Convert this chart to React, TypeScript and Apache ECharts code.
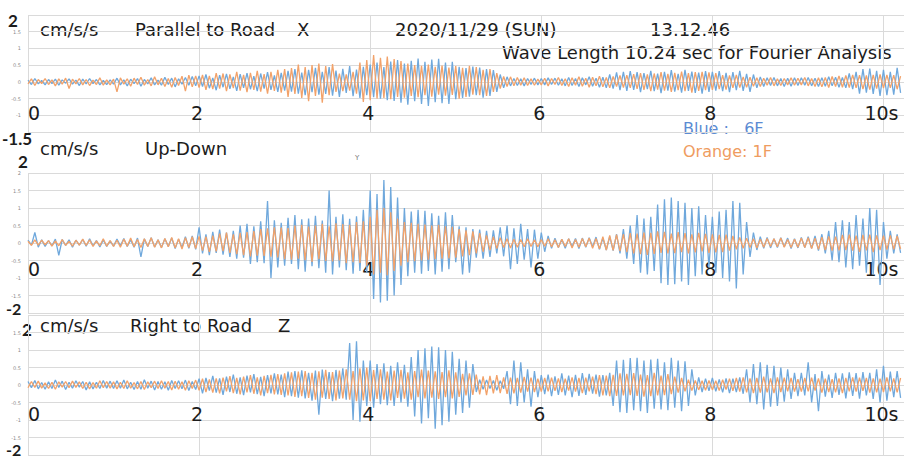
import React, { useEffect, useRef } from "react";
import * as echarts from "echarts";

// Acceleration records, sampled every 0.04 s (10.24 s window), values in 0.01 cm/s/s.
const SAMPLE_STEP = 0.04;
const VALUE_SCALE = 0.01;

// Parallel to Road (X)
const parallelBlue6F = [
  5,-8,10,-6,4,-9,7,-5,8,-10,6,-4,9,-7,5,-11,8,-6,10,-5,7,-9,4,-8,6,
  -7,11,-9,6,-12,8,-5,10,-13,7,-6,12,-9,5,-10,14,-8,11,-15,9,-7,13,-10,16,-12,
  18,-14,22,-19,12,-25,20,-16,24,-21,15,-27,23,-18,26,-22,17,-28,25,-20,29,-24,19,-30,27,
  -26,33,-29,38,-35,28,-40,36,-31,42,-38,30,-36,44,-41,34,-45,39,-33,47,-43,37,-48,45,-40,
  52,-46,58,-50,44,-55,61,-57,65,-62,55,-68,63,-58,70,-66,60,-72,67,-61,69,-64,58,-66,60,
  -52,45,-48,41,-44,46,-40,43,-47,38,-42,35,-30,22,-18,15,-12,10,-11,9,-12,10,-8,11,-9,
  10,-9,12,-8,11,-10,9,-12,13,-11,10,-14,12,-9,15,-13,11,-16,14,-18,22,-20,28,-25,30,
  -27,32,-24,29,-31,26,-22,33,-28,25,-34,30,-26,35,-29,24,-32,36,-27,31,-33,28,-35,32,-30,
  30,-26,32,-28,27,-31,29,-25,33,-27,24,-30,22,-18,15,-14,12,-11,13,-12,10,-14,11,-13,12,
  -11,12,-10,13,-12,11,-14,12,-13,15,-12,14,-16,13,-18,25,-22,30,-35,38,-32,40,-36,33,-42,
  36,-40,30,-38,42,-33,
];
const parallelOrange1F = [
  -6,9,-11,7,-5,10,-8,6,-12,9,-7,11,-20,8,-6,10,-9,7,-11,5,-8,12,-10,6,-9,
  8,-30,12,-7,9,-13,11,-8,14,-10,7,-12,15,-9,11,-14,10,-16,13,-11,17,-28,20,-15,18,
  -17,21,-24,18,-22,26,-20,25,-28,22,-19,30,-26,21,-31,27,-24,33,-29,23,-35,30,-27,36,-32,
  38,-45,41,-36,52,-48,44,-58,50,-42,55,-62,47,-40,53,-30,25,-28,22,-26,30,-35,58,-60,65,
  -55,80,-50,72,-48,76,-52,68,-45,62,-47,55,-42,50,-46,48,-40,52,-44,45,-38,49,-41,43,-39,
  47,-50,42,-45,48,-38,44,-40,36,-42,38,-30,26,-20,16,-14,15,-12,13,-10,12,-11,9,-10,8,
  -9,11,-12,10,-8,13,-11,9,-14,12,-10,15,-13,11,-16,14,-12,17,-15,13,-18,16,-14,19,-17,
  20,-18,23,-21,26,-24,22,-28,25,-23,29,-26,24,-30,27,-25,31,-28,26,-32,29,-27,30,-25,28,
  -24,26,-22,20,-23,19,-18,21,-17,15,-16,14,-13,12,-14,11,-10,13,-12,9,-11,10,-9,12,-10,
  11,-9,13,-12,10,-14,12,-15,13,-17,16,-14,18,-16,19,-17,21,-18,20,-22,19,-23,21,-20,22,
  -19,21,-18,20,-22,17,
];

// Up-Down (Y)
const verticalBlue6F = [
  8,-6,30,-12,9,-10,7,-8,11,-35,10,-7,9,-12,8,-6,10,-9,12,-8,7,-11,9,-10,6,
  -9,11,-8,13,-10,9,-12,14,-40,12,-10,15,-11,9,-13,12,-10,14,-16,11,-13,18,-15,20,-18,
  45,-30,25,-35,32,-28,38,-33,30,-40,35,-45,50,-42,55,-60,48,-55,62,-58,120,-100,65,-70,58,
  -65,72,-60,80,-75,68,-82,70,-66,78,-72,64,-85,150,-90,75,-70,82,-78,69,-88,76,-80,95,-85,
  150,-160,140,-170,180,-165,160,-150,130,-120,100,-95,90,-85,95,-88,92,-80,85,-90,78,-82,88,-75,80,
  -55,48,-90,45,-85,40,-42,38,-45,35,-40,36,-30,45,-38,50,-75,42,-60,55,-48,40,-70,38,-45,
  30,-25,20,-15,14,-13,11,-15,12,-10,13,-16,14,-12,15,-11,17,-18,14,-20,18,-22,25,-30,40,
  -45,50,-60,80,-85,70,-90,75,-80,110,-115,125,-120,130,-118,120,-110,115,-120,100,-95,105,-90,80,-70,
  75,-85,90,-100,95,-110,120,-130,115,-90,60,-40,30,-20,18,-15,16,-14,12,-13,15,-11,14,-16,12,
  -14,16,-13,18,-15,20,-22,25,-30,35,-50,60,-55,65,-70,60,-75,80,-65,70,-85,100,-90,95,-120,
  60,-45,35,-30,25,-28,
];
const verticalOrange1F = [
  5,-7,9,-6,8,-5,7,-9,6,-8,10,-7,5,-9,8,-6,11,-7,9,-10,6,-8,12,-9,7,
  -10,8,-12,11,-9,14,-11,10,-13,12,-10,15,-12,9,-14,13,-11,16,-14,12,-17,15,-13,18,-16,
  19,-22,18,-25,21,-24,27,-23,30,-28,25,-32,29,-35,31,-38,34,-36,40,-37,42,-39,45,-41,44,
  -46,43,-48,50,-45,52,-49,47,-54,50,-46,55,-51,48,-53,56,-50,54,-58,52,-55,60,-57,62,-65,
  75,-90,95,-85,100,-92,88,-80,70,-65,60,-55,58,-52,55,-50,53,-48,50,-46,52,-45,48,-44,46,
  -42,40,-38,36,-35,33,-30,28,-25,22,-20,18,-16,15,-13,12,-14,11,-12,10,-11,12,-10,9,-11,
  10,-9,12,-11,9,-13,11,-10,12,-14,10,-12,13,-11,14,-15,13,-17,18,-20,22,-21,24,-23,25,
  -26,28,-30,27,-32,30,-34,29,-31,33,-28,32,-30,27,-29,31,-26,28,-30,25,-27,29,-24,26,-28,
  25,-27,23,-26,24,-22,20,-18,16,-15,14,-13,12,-14,11,-12,13,-10,12,-11,14,-12,10,-13,11,
  -12,14,-13,15,-16,14,-18,17,-20,19,-22,18,-21,23,-20,24,-22,21,-25,23,-21,24,-26,22,-20,
  21,-19,22,-18,20,-17,
];

// Right to Road (Z)
const rightBlue6F = [
  10,-8,13,-11,7,-12,9,-10,14,-7,11,-13,8,-9,12,-6,10,-14,9,-11,8,-10,13,-9,11,
  -10,12,-9,14,-11,8,-13,10,-12,15,-9,11,-14,10,-12,9,-15,13,-10,12,-11,14,-16,10,-13,
  18,-24,20,-16,26,-22,19,-28,24,-20,30,-25,22,-29,27,-21,31,-26,23,-32,28,-24,33,-27,30,
  -35,38,-32,40,-36,42,-38,35,-45,41,-85,44,-40,37,-46,43,-39,48,-42,120,-100,125,-105,70,-60,
  70,-65,60,-55,62,-58,55,-60,65,-50,58,-62,80,-90,100,-110,105,-95,110,-125,108,-115,100,-105,95,
  -85,75,-80,70,-65,60,-20,15,-12,14,-10,13,-15,12,-11,40,-55,70,-60,65,-50,45,-62,40,-35,
  28,-26,30,-32,25,-28,33,-30,27,-35,29,-31,34,-28,32,-25,30,-33,28,-30,35,-60,70,-78,72,
  -80,77,-72,78,-75,70,-80,73,-68,75,-70,65,-72,78,-65,70,-75,68,-60,45,-30,22,-20,18,-17,
  20,-18,16,-21,19,-23,18,-20,22,-25,45,-50,60,-55,65,-70,58,-62,55,-60,50,-48,45,-40,35,
  -32,35,-30,65,-50,31,-75,40,-33,30,-37,35,-28,33,-38,36,-31,34,-39,37,-30,35,-40,45,-50,
  55,-45,38,-35,40,-37,
];
const rightOrange1F = [
  -8,10,-7,11,-9,6,-10,8,-12,9,-6,10,-8,11,-7,9,-10,8,-11,7,-9,12,-8,10,-9,
  9,-11,8,-10,12,-9,7,-11,10,-13,9,-8,11,-10,12,-9,10,-14,11,-12,9,-15,12,-10,14,
  -15,18,-20,16,-22,19,-24,21,-18,25,-23,20,-27,24,-21,28,-25,22,-30,26,-23,29,-27,31,-28,
  33,-30,36,-34,38,-32,40,-37,35,-42,39,-36,43,-40,37,-44,41,-38,45,-42,40,-46,48,-44,50,
  -46,43,-40,45,-42,38,-44,41,-37,43,-39,36,-42,40,-35,44,-38,41,-36,39,-40,37,-35,42,-38,
  36,-34,32,-30,33,-28,30,-27,25,-29,26,-24,28,-23,22,-25,21,-24,20,-22,23,-19,21,-20,18,
  -19,20,-18,21,-17,19,-20,18,-16,22,-19,20,-23,21,-18,24,-26,28,-30,27,-32,29,-31,33,-30,
  32,-29,34,-31,30,-33,28,-32,35,-30,27,-29,31,-26,24,-22,20,-18,15,-16,13,-14,12,-15,13,
  -14,12,-16,15,-13,18,-17,20,-19,22,-21,19,-23,20,-22,24,-21,19,-23,22,-20,21,-18,20,-19,
  17,-19,20,-18,21,-16,19,-22,18,-20,17,-21,19,-23,20,-18,22,-19,21,-17,20,-22,19,-21,18,
  -20,22,-18,19,-21,20,
];

// Axis settings
const TIME_MAX = 10.24;
const TIME_TICKS = [0, 2, 4, 6, 8, 10];
const Y_RANGES: [number, number][] = [[-1.5, 2], [-2, 2], [-2, 2]];

const BLUE = "#6fa8dc";
const ORANGE = "#f2a26a";
const GRID_COLOR = "#dadada";
const FONT = "'DejaVu Sans', 'Open Sans', sans-serif";
const MARK_FONT = "Lato, 'Open Sans', sans-serif";
const INK = "#1c1c1c";

const panels = [
  { blue: parallelBlue6F, orange: parallelOrange1F },
  { blue: verticalBlue6F, orange: verticalOrange1F },
  { blue: rightBlue6F, orange: rightOrange1F },
];

const GRIDS = [
  { left: 28, top: 15, width: 876, height: 117 },
  { left: 28, top: 173, width: 876, height: 140 },
  { left: 28, top: 315, width: 876, height: 140 },
];
// distance from each grid's bottom edge to the centre of its time labels
const TIME_LABEL_OFFSET = [-19, -44, -41];
// tiny value labels hidden where the range marks sit on top of them
const HIDE_MAX_TICK = [true, false, true];

const toPoints = (vals: number[]) =>
  vals.map((v, i) => [Math.round(i * SAMPLE_STEP * 100) / 100, v * VALUE_SCALE]);

const fmtTick = (v: number) => {
  if (!TIME_TICKS.includes(v)) return "";
  return v === 10 ? "10s" : String(v);
};

const text = (
  str: string,
  x: number,
  y: number,
  size: number,
  color = INK,
  weight: string | number = "normal",
  family = FONT
) => ({
  type: "text",
  x,
  y,
  silent: true,
  style: {
    text: str,
    fill: color,
    font: `${weight} ${size}px ${family}`,
    textVerticalAlign: "middle",
    textAlign: "left",
  },
});

function buildOption() {
  const xAxis = GRIDS.map((_, i) => ({
    type: "value",
    gridIndex: i,
    min: 0,
    max: TIME_MAX,
    interval: 2,
    offset: TIME_LABEL_OFFSET[i],
    axisLine: { show: false },
    axisTick: { show: false },
    splitLine: {
      show: true,
      showMaxLine: false,
      lineStyle: { color: GRID_COLOR, width: 1 },
    },
    axisLabel: {
      formatter: fmtTick,
      fontSize: 19,
      lineHeight: 19,
      fontFamily: FONT,
      color: INK,
      margin: 0,
      verticalAlign: "middle",
      alignMinLabel: "left",
      padding: [0, 4, 0, 0],
    },
  }));

  const yAxis = GRIDS.map((_, i) => ({
    type: "value",
    gridIndex: i,
    min: Y_RANGES[i][0],
    max: Y_RANGES[i][1],
    interval: 0.5,
    axisLine: { show: false },
    axisTick: { show: false },
    splitLine: { show: true, lineStyle: { color: GRID_COLOR, width: 1 } },
    axisLabel: {
      fontSize: 5,
      color: "#8a8a8a",
      margin: 7,
      fontFamily: FONT,
      showMinLabel: false,
      showMaxLabel: !HIDE_MAX_TICK[i],
    },
  }));

  const series: any[] = [];
  panels.forEach((p, i) => {
    series.push({
      name: "6F",
      type: "line",
      xAxisIndex: i,
      yAxisIndex: i,
      data: toPoints(p.blue),
      symbol: "none",
      silent: true,
      lineStyle: { color: BLUE, width: 1.3 },
      z: 2,
    });
    series.push({
      name: "1F",
      type: "line",
      xAxisIndex: i,
      yAxisIndex: i,
      data: toPoints(p.orange),
      symbol: "none",
      silent: true,
      lineStyle: { color: ORANGE, width: 1.3 },
      z: 3,
    });
  });

  const graphic = [
    // panel 1 header
    text("cm/s/s", 40, 29, 18),
    text("Parallel to Road", 135, 29, 18),
    text("X", 297, 29, 18),
    text("2020/11/29 (SUN)", 395, 29, 18),
    text("13.12.46", 650, 29, 18),
    text("Wave Length 10.24 sec for Fourier Analysis", 502, 52, 18),
    text("Blue :   6F", 683, 128, 16, "#5b8bd3"),
    text("Orange: 1F", 683, 151, 16, "#ef9c60"),
    // panel 2 header
    text("cm/s/s", 40, 148, 18),
    text("Up-Down", 145, 148, 18),
    text("Y", 355, 158, 7, "#777"),
    // panel 3 header
    text("cm/s/s", 40, 325, 18),
    text("Right to Road", 130, 325, 18),
    text("Z", 278, 325, 18),
    // vertical range marks
    text("2", 8, 20, 17, INK, "bold", MARK_FONT),
    text("-1.5", 2, 138, 17, INK, "bold", MARK_FONT),
    text("2", 18, 161, 17, INK, "bold", MARK_FONT),
    text("-2", 6, 308, 16, INK, "bold", MARK_FONT),
    text("2", 22, 329, 17, INK, "bold", MARK_FONT),
    text("-2", 6, 449, 16, INK, "bold", MARK_FONT),
  ];

  return {
    animation: false,
    backgroundColor: "#ffffff",
    grid: GRIDS,
    xAxis,
    yAxis,
    series,
    graphic,
  };
}

export default function App() {
  const ref = useRef<HTMLDivElement>(null);
  useEffect(() => {
    if (!ref.current) return;
    const chart = echarts.init(ref.current, undefined, { renderer: "svg" });
    chart.setOption(buildOption() as any);
    return () => chart.dispose();
  }, []);
  return (
    <div
      ref={ref}
      style={{
        position: "absolute",
        left: 0,
        top: 0,
        width: 917,
        height: 458,
        background: "#ffffff",
      }}
    />
  );
}
